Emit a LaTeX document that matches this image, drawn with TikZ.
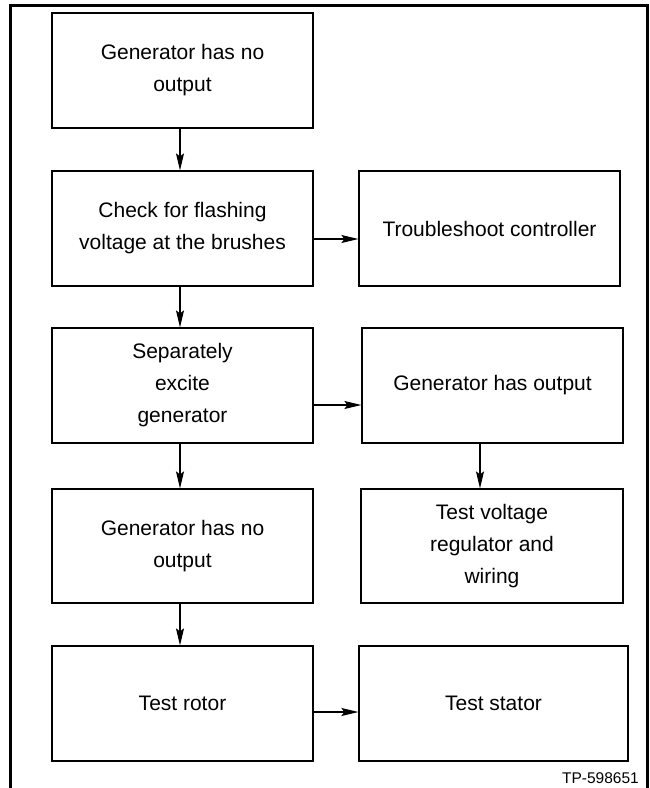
\documentclass[tikz,border=0pt]{standalone}
\usepackage{fontspec}
\setmainfont{Liberation Sans}
\usetikzlibrary{arrows.meta}
\begin{document}
\begin{tikzpicture}[x=1pt,y=-1pt,
  box/.style={draw,line width=1.2pt,rectangle,minimum width=261pt,minimum height=115pt,
    align=center,font=\fontsize{21}{32}\selectfont,inner sep=0pt},
  arr/.style={line width=1.1pt,-{Stealth[length=17pt,width=8pt,inset=3pt]}}]
\useasboundingbox (0,0) rectangle (650,788);
% frame
\draw[line width=3pt] (10.5,788) -- (10.5,5) -- (647,5) -- (647,788);
% left column
\node[box] (b1) at (182.5,70.5) {Generator has no\\output};
\node[box] (b2) at (182.5,228.5) {Check for flashing\\voltage at the brushes};
\node[box] (b3) at (182.5,385.5) {Separately\\excite\\generator};
\node[box,minimum height=114pt] (b4) at (182.5,546) {Generator has no\\output};
\node[box] (b5) at (182.5,703.5) {Test rotor};
% right column
\node[box] (r1) at (489.5,228.5) {Troubleshoot controller};
\node[box] (r2) at (492.5,385.5) {Generator has output};
\node[box,minimum height=114pt,minimum width=262pt] (r3) at (492,546) {Test voltage\\regulator and\\wiring};
\node[box,minimum width=269pt] (r4) at (493.5,703.5) {Test stator};
% label
\node[anchor=east,font=\fontsize{15.5}{18}\selectfont,inner sep=0pt] (tp) at (639,778) {TP-598651};
% connectors
\draw[arr] ([xshift=-2.5pt]b1.south) -- ([xshift=-2.5pt]b2.north);
\draw[arr] ([xshift=-2.5pt]b2.south) -- ([xshift=-2.5pt]b3.north);
\draw[arr] ([xshift=-2.5pt]b3.south) -- ([xshift=-2.5pt]b4.north);
\draw[arr] ([xshift=-2.5pt]b4.south) -- ([xshift=-2.5pt]b5.north);
\draw[arr] ([xshift=-12.5pt]r2.south) -- ([xshift=-12pt]r3.north);
\draw[arr] ([yshift=-10.5pt]b2.east) -- ([yshift=-10.5pt]r1.west);
\draw[arr] ([yshift=-19.5pt]b3.east) -- ([yshift=-19.5pt]r2.west);
\draw[arr] ([yshift=-8.5pt]b5.east) -- ([yshift=-8.5pt]r4.west);
\end{tikzpicture}
\end{document}
